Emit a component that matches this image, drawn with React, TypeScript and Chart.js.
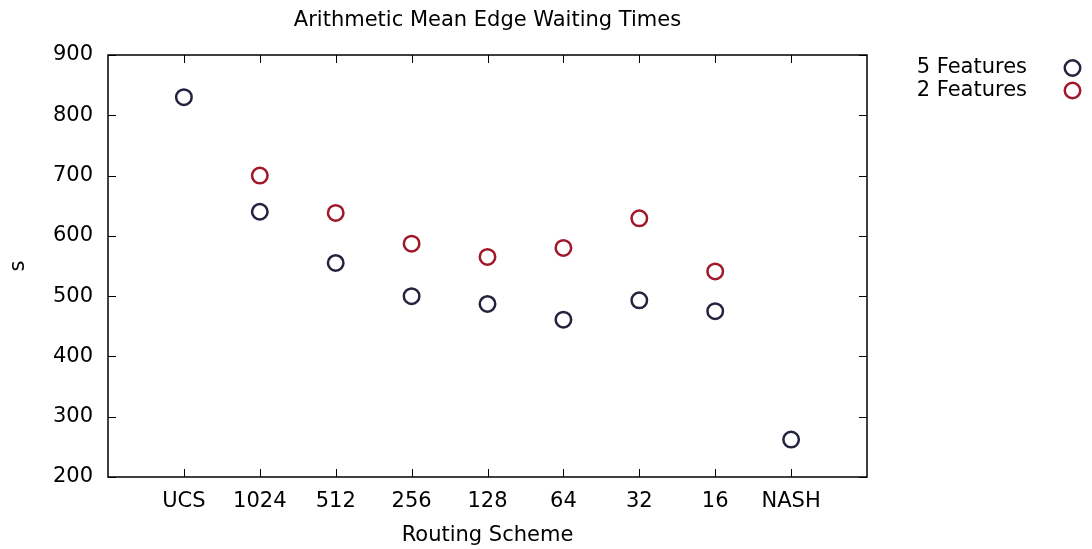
import React, { useEffect, useRef } from "react";
import { Chart, registerables } from "chart.js";

Chart.register(...registerables);

const categories = ["UCS", "1024", "512", "256", "128", "64", "32", "16", "NASH"];
const fiveFeatures = [830, 640, 555, 500, 487, 461, 493, 475, 262];
const twoFeatures = [null, 700, 638, 587, 565, 580, 629, 541, null];
const seriesNames = ["5 Features", "2 Features"];
const seriesColors = ["#23233f", "#a0182a"];
const yTicks = [200, 300, 400, 500, 600, 700, 800, 900];
const chartTitle = "Arithmetic Mean Edge Waiting Times";

const FONT = "'DejaVu Sans', sans-serif";
const FS = 21;

export default function App() {
  const ref = useRef<HTMLCanvasElement | null>(null);

  useEffect(() => {
    if (!ref.current) return;
    const toPoints = (arr: (number | null)[]) =>
      arr
        .map((v, i) => (v === null ? null : { x: i, y: v }))
        .filter((p) => p !== null) as { x: number; y: number }[];

    const boxPlugin = {
      id: "gnuplotBox",
      afterDraw(chart: any) {
        const { ctx, chartArea } = chart;
        const xs = chart.scales.x;
        const ys = chart.scales.y;
        ctx.save();
        ctx.strokeStyle = "#000";
        ctx.lineWidth = 1.5;
        ctx.strokeRect(
          Math.round(chartArea.left),
          Math.round(chartArea.top),
          Math.round(chartArea.right - chartArea.left),
          Math.round(chartArea.bottom - chartArea.top)
        );
        const tl = 8;
        ctx.lineWidth = 1;
        ctx.beginPath();
        categories.forEach((_, i) => {
          const px = Math.round(xs.getPixelForValue(i)) + 0.5;
          ctx.moveTo(px, chartArea.bottom);
          ctx.lineTo(px, chartArea.bottom - tl);
          ctx.moveTo(px, chartArea.top);
          ctx.lineTo(px, chartArea.top + tl);
        });
        yTicks.forEach((v) => {
          const py = Math.round(ys.getPixelForValue(v)) + 0.5;
          ctx.moveTo(chartArea.left, py);
          ctx.lineTo(chartArea.left + tl, py);
          ctx.moveTo(chartArea.right, py);
          ctx.lineTo(chartArea.right - tl, py);
        });
        ctx.stroke();

        // title
        ctx.font = `${FS}px ${FONT}`;
        ctx.fillStyle = "#000";
        ctx.textAlign = "center";
        ctx.textBaseline = "middle";
        ctx.fillText(chartTitle, (chartArea.left + chartArea.right) / 2, 21);

        // legend
        ctx.textAlign = "right";
        const legendY = [68, 90.5];
        chart.data.datasets.forEach((ds: any, i: number) => {
          ctx.fillText(ds.label, 1027, legendY[i]);
          ctx.beginPath();
          ctx.strokeStyle = ds.borderColor;
          ctx.lineWidth = 2.5;
          ctx.arc(1072.5, legendY[i], 7.75, 0, Math.PI * 2);
          ctx.stroke();
        });
        ctx.restore();
      },
    };

    const chart = new Chart(ref.current, {
      type: "scatter",
      data: {
        datasets: [
          {
            label: seriesNames[0],
            data: toPoints(fiveFeatures),
            borderColor: seriesColors[0],
            backgroundColor: "rgba(0,0,0,0)",
            pointRadius: 7.75,
            pointBorderWidth: 2.5,
            pointHoverRadius: 7.75,
          },
          {
            label: seriesNames[1],
            data: toPoints(twoFeatures),
            borderColor: seriesColors[1],
            backgroundColor: "rgba(0,0,0,0)",
            pointRadius: 7.75,
            pointBorderWidth: 2.5,
            pointHoverRadius: 7.75,
          },
        ],
      },
      options: {
        animation: false,
        responsive: true,
        maintainAspectRatio: false,
        layout: { padding: { left: 0, right: 225, top: 55, bottom: 0 } },
        plugins: {
          legend: { display: false },
          tooltip: { enabled: false },
          title: { display: false },
        },
        scales: {
          x: {
            type: "linear",
            min: -1,
            max: 9,
            afterFit: (scale: any) => {
              scale.height = 72;
            },
            afterBuildTicks: (scale: any) => {
              scale.ticks = categories.map((_, i) => ({ value: i }));
            },
            ticks: {
              autoSkip: false,
              maxRotation: 0,
              color: "#000",
              font: { family: FONT, size: FS },
              padding: 12,
              callback: (v: any) => categories[v as number] ?? "",
            },
            grid: { display: false, drawTicks: false },
            border: { display: false },
            title: {
              display: true,
              text: "Routing Scheme",
              color: "#000",
              font: { family: FONT, size: FS },
              padding: { top: 0, bottom: 1 },
            },
          },
          y: {
            type: "linear",
            min: 200,
            max: 900,
            afterFit: (scale: any) => {
              scale.width = 108;
            },
            afterBuildTicks: (scale: any) => {
              scale.ticks = yTicks.map((v) => ({ value: v }));
            },
            ticks: {
              color: "#000",
              font: { family: FONT, size: FS },
              padding: 15,
            },
            grid: { display: false, drawTicks: false },
            border: { display: false },
            title: {
              display: true,
              text: "s",
              color: "#000",
              font: { family: FONT, size: FS },
              padding: { top: 6, bottom: 0 },
            },
          },
        },
      },
      plugins: [boxPlugin],
    });
    return () => chart.destroy();
  }, []);

  return (
    <div style={{ position: "fixed", left: 0, top: 0, width: 1092, height: 549, background: "#fff" }}>
      <canvas ref={ref} />
    </div>
  );
}
